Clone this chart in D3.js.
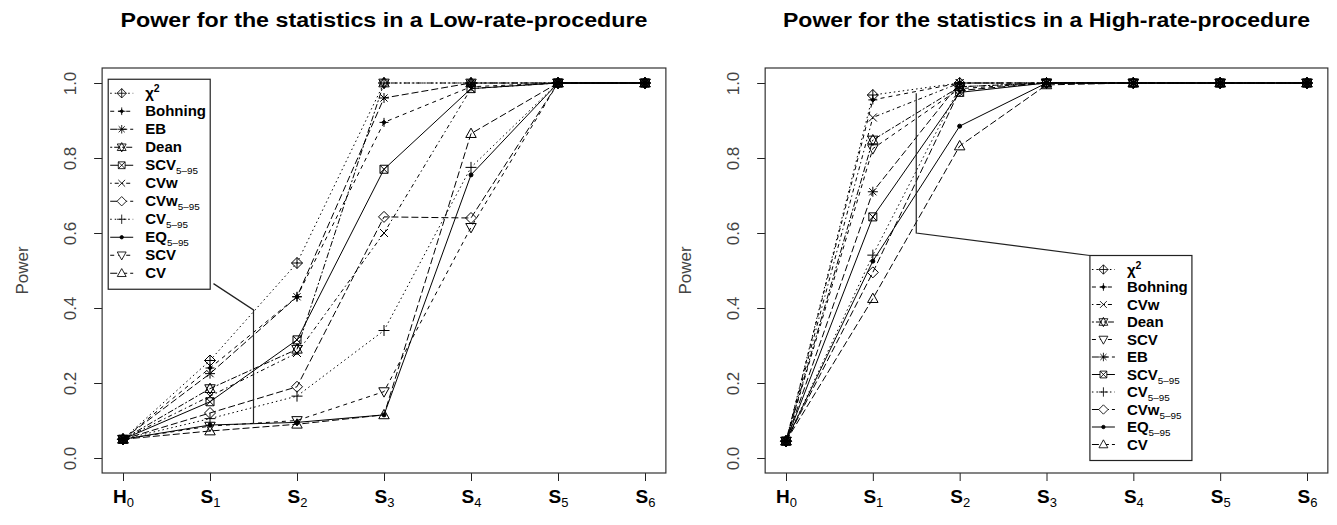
<!DOCTYPE html>
<html>
<head>
<meta charset="utf-8">
<script src="https://cdn.jsdelivr.net/npm/d3@7"></script>
<style>
  body { margin: 0; background: #fff; }
  svg { display: block; font-family: Arial, "Liberation Sans", sans-serif; }
</style>
</head>
<body>
<div id="chart"></div>
<script>
// stages on the x axis
const stages = ["H0", "S1", "S2", "S3", "S4", "S5", "S6"];
const stageLetter = ["H", "S", "S", "S", "S", "S", "S"];
const stageIndex = ["0", "1", "2", "3", "4", "5", "6"];
const yTicks = [0, 0.2, 0.4, 0.6, 0.8, 1.0];

// power, Low-rate-procedure
const lowChi2    = [0.05, 0.26,  0.52,  1.00,  1.00,  1.00, 1.00];
const lowBohning = [0.05, 0.24,  0.43,  0.895, 0.99,  1.00, 1.00];
const lowEB      = [0.05, 0.225, 0.43,  0.96,  1.00,  1.00, 1.00];
const lowDean    = [0.05, 0.185, 0.29,  1.00,  1.00,  1.00, 1.00];
const lowSCV595  = [0.05, 0.15,  0.315, 0.77,  0.985, 1.00, 1.00];
const lowCVw     = [0.05, 0.165, 0.28,  0.60,  0.985, 1.00, 1.00];
const lowCVw595  = [0.05, 0.12,  0.19,  0.643, 0.64,  1.00, 1.00];
const lowCV595   = [0.05, 0.105, 0.165, 0.34,  0.775, 1.00, 1.00];
const lowEQ595   = [0.05, 0.088, 0.095, 0.115, 0.755, 1.00, 1.00];
const lowSCV     = [0.05, 0.085, 0.10,  0.177, 0.615, 1.00, 1.00];
const lowCV      = [0.05, 0.072, 0.09,  0.115, 0.865, 1.00, 1.00];

// power, High-rate-procedure
const highChi2    = [0.045, 0.968, 1.00,  1.00,  1.00, 1.00, 1.00];
const highBohning = [0.045, 0.955, 1.00,  1.00,  1.00, 1.00, 1.00];
const highCVw     = [0.045, 0.908, 1.00,  1.00,  1.00, 1.00, 1.00];
const highDean    = [0.045, 0.848, 0.99,  1.00,  1.00, 1.00, 1.00];
const highSCV     = [0.045, 0.825, 0.985, 1.00,  1.00, 1.00, 1.00];
const highEB      = [0.045, 0.71,  1.00,  1.00,  1.00, 1.00, 1.00];
const highSCV595  = [0.045, 0.643, 0.975, 1.00,  1.00, 1.00, 1.00];
const highCV595   = [0.045, 0.541, 0.99,  1.00,  1.00, 1.00, 1.00];
const highCVw595  = [0.045, 0.495, 0.98,  1.00,  1.00, 1.00, 1.00];
const highEQ595   = [0.045, 0.525, 0.885, 1.00,  1.00, 1.00, 1.00];
const highCV      = [0.045, 0.425, 0.832, 0.995, 1.00, 1.00, 1.00];

// legend order = drawing order
const lowKeys  = ["chi2", "Bohning", "EB", "Dean", "SCV595", "CVw", "CVw595", "CV595", "EQ595", "SCV", "CV"];
const lowVals  = [lowChi2, lowBohning, lowEB, lowDean, lowSCV595, lowCVw, lowCVw595, lowCV595, lowEQ595, lowSCV, lowCV];
const highKeys = ["chi2", "Bohning", "CVw", "Dean", "SCV", "EB", "SCV595", "CV595", "CVw595", "EQ595", "CV"];
const highVals = [highChi2, highBohning, highCVw, highDean, highSCV, highEB, highSCV595, highCV595, highCVw595, highEQ595, highCV];

// pointer lines (data coords)
const lowPointer  = [[1.04, 0.465], [1.5, 0.395], [1.5, 0.091]];
const highPointer = [[1.5, 0.973], [1.5, 0.60], [3.5, 0.54]];

const labels = {
  chi2:    {main: "\u03c7", sup: "2"},
  Bohning: {main: "Bohning"},
  EB:      {main: "EB"},
  Dean:    {main: "Dean"},
  SCV595:  {main: "SCV", sub: "5\u201395"},
  CVw:     {main: "CVw"},
  CVw595:  {main: "CVw", sub: "5\u201395"},
  CV595:   {main: "CV", sub: "5\u201395"},
  EQ595:   {main: "EQ", sub: "5\u201395"},
  SCV:     {main: "SCV"},
  CV:      {main: "CV"}
};

const styles = {
  chi2:    {dash: "1.5,3",     sym: "diamondPlus"},
  Bohning: {dash: "4,4",       sym: "plusDot"},
  EB:      {dash: "7,3",       sym: "asterisk"},
  Dean:    {dash: "2,2,6,2",   sym: "david"},
  SCV595:  {dash: null,        sym: "squareX"},
  CVw:     {dash: "1.5,3,4,3", sym: "x"},
  CVw595:  {dash: "7,3",       sym: "diamond"},
  CV595:   {dash: "1.5,3",     sym: "plus"},
  EQ595:   {dash: null,        sym: "dot"},
  SCV:     {dash: "4,4",       sym: "triDown"},
  CV:      {dash: "7,3",       sym: "triUp"}
};

function symbolPath(type) {
  const dia = r => `M0,${-r}L${r},0L0,${r}L${-r},0Z`;
  const plus = r => `M${-r},0H${r}M0,${-r}V${r}`;
  const ex = r => `M${-r},${-r}L${r},${r}M${-r},${r}L${r},${-r}`;
  const up = r => `M0,${-r}L${r * 0.95},${r * 0.7}L${-r * 0.95},${r * 0.7}Z`;
  const down = r => `M0,${r}L${r * 0.95},${-r * 0.7}L${-r * 0.95},${-r * 0.7}Z`;
  const circ = r => `M${r},0A${r},${r},0,1,1,${-r},0A${r},${r},0,1,1,${r},0Z`;
  switch (type) {
    case "diamondPlus": return dia(5.5) + plus(5.5);
    case "plusDot":     return plus(4.5) + dia(2.2);
    case "asterisk":    return plus(5) + ex(3.6);
    case "david":       return up(5.5) + down(5.5);
    case "squareX":     return `M-4,-4H4V4H-4Z` + ex(4);
    case "x":           return ex(4);
    case "diamond":     return dia(5.5);
    case "plus":        return plus(5.5);
    case "dot":         return circ(2);
    case "triDown":     return down(5.5);
    case "triUp":       return up(5.5);
  }
}
const filled = {plusDot: true, dot: true};

const W = 1337, H = 525;
const svg = d3.select("#chart").append("svg")
  .attr("width", W)
  .attr("height", H);

function drawLabel(sel, lab, size) {
  sel.append("tspan").text(lab.main);
  if (lab.sup) sel.append("tspan").attr("dy", -6).attr("font-size", size * 0.7).text(lab.sup);
  if (lab.sub) sel.append("tspan").attr("dy", 4).attr("font-size", size * 0.66)
    .attr("font-weight", "normal").text(lab.sub);
}

function panel(cfg) {
  const x = d3.scalePoint().domain(stages).range(cfg.xr);
  const y = d3.scaleLinear().domain([0, 1]).range([458, 83]);
  const xpos = v => cfg.xr[0] + v * (cfg.xr[1] - cfg.xr[0]) / (stages.length - 1);
  const span = cfg.xr[1] - cfg.xr[0];
  const bx0 = cfg.xr[0] - 0.04 * span, bx1 = cfg.xr[1] + 0.04 * span;
  const by0 = y(1.04), by1 = y(-0.04);

  const g = svg.append("g");

  // title
  g.append("text")
    .attr("x", (bx0 + bx1) / 2).attr("y", 27)
    .attr("text-anchor", "middle")
    .attr("font-size", 20).attr("font-weight", "bold")
    .attr("textLength", 527).attr("lengthAdjust", "spacingAndGlyphs")
    .text(cfg.title);

  // y axis
  const ya = g.append("g")
    .attr("transform", `translate(${bx0},0)`)
    .call(d3.axisLeft(y).tickValues(yTicks).tickFormat(d3.format(".1f")).tickSize(8).tickPadding(0));
  ya.select(".domain").remove();
  ya.selectAll(".tick line").attr("stroke", "#222");
  ya.selectAll(".tick text")
    .attr("x", 0).attr("dy", 0)
    .attr("transform", "translate(-31,0) rotate(-90)")
    .attr("text-anchor", "middle")
    .attr("dominant-baseline", "middle")
    .attr("font-size", 17).attr("fill", "#444")
    .attr("font-family", "Arial, 'Liberation Sans', sans-serif");

  g.append("text")
    .attr("transform", `translate(${bx0 - 79},${(by0 + by1) / 2}) rotate(-90)`)
    .attr("text-anchor", "middle")
    .attr("dominant-baseline", "middle")
    .attr("font-size", 17).attr("fill", "#444")
    .text("Power");

  // x axis
  const xa = g.append("g")
    .attr("transform", `translate(0,${by1})`)
    .call(d3.axisBottom(x).tickSize(8).tickFormat(""));
  xa.select(".domain").remove();
  xa.selectAll(".tick line").attr("stroke", "#222");
  xa.selectAll(".tick").each(function (d, i) {
    const t = d3.select(this).append("text")
      .attr("y", 30).attr("text-anchor", "middle")
      .attr("fill", "#000")
      .attr("font-family", "Arial, 'Liberation Sans', sans-serif");
    t.append("tspan").attr("font-size", 19).attr("font-weight", "bold").text(stageLetter[i]);
    t.append("tspan").attr("font-size", 13).attr("dy", 4).text(stageIndex[i]);
  });

  // box
  g.append("rect")
    .attr("x", bx0).attr("y", by0)
    .attr("width", bx1 - bx0).attr("height", by1 - by0)
    .attr("fill", "none").attr("stroke", "#333").attr("stroke-width", 1.2);

  // series
  const line = d3.line().x((d, i) => x(stages[i])).y(d => y(d));
  cfg.keys.forEach((k, si) => {
    const vals = cfg.vals[si];
    const st = styles[k];
    g.append("path")
      .attr("d", line(vals))
      .attr("fill", "none").attr("stroke", "#000").attr("stroke-width", 1)
      .attr("stroke-dasharray", st.dash);
    g.selectAll(null).data(vals).enter().append("path")
      .attr("transform", (d, i) => `translate(${x(stages[i])},${y(d)})`)
      .attr("d", symbolPath(st.sym))
      .attr("fill", filled[st.sym] ? "#000" : "none")
      .attr("stroke", "#000").attr("stroke-width", 1);
  });

  // pointer line
  g.append("path")
    .attr("d", d3.line().x(d => xpos(d[0])).y(d => y(d[1]))(cfg.pointer))
    .attr("fill", "none").attr("stroke", "#222").attr("stroke-width", 1.2);

  // legend
  const lx = xpos(cfg.legend[0]), ly = y(cfg.legend[1]);
  const rowH = cfg.rowH, lw = 102, lh = rowH * (cfg.keys.length - 1) + 30;
  const lg = g.append("g").attr("transform", `translate(${lx},${ly})`);
  lg.append("rect").attr("width", lw).attr("height", lh)
    .attr("fill", "#fff").attr("stroke", "#222").attr("stroke-width", 1.2);
  cfg.keys.forEach((k, i) => {
    const st = styles[k];
    const ry = 14 + i * rowH;
    lg.append("line")
      .attr("x1", 2).attr("x2", 25).attr("y1", ry).attr("y2", ry)
      .attr("stroke", "#000").attr("stroke-dasharray", st.dash);
    lg.append("path")
      .attr("transform", `translate(13.5,${ry}) scale(0.85)`)
      .attr("d", symbolPath(st.sym))
      .attr("fill", filled[st.sym] ? "#000" : "#fff")
      .attr("stroke", "#000");
    const t = lg.append("text")
      .attr("x", 37).attr("y", ry + 5)
      .attr("font-size", 15).attr("font-weight", "bold");
    drawLabel(t, labels[k], 15);
  });
}

panel({
  title: "Power for the statistics in a Low-rate-procedure",
  xr: [123, 645],
  keys: lowKeys, vals: lowVals,
  pointer: lowPointer,
  legend: [-0.17, 1.01],
  rowH: 18
});
panel({
  title: "Power for the statistics in a High-rate-procedure",
  xr: [786, 1307],
  keys: highKeys, vals: highVals,
  pointer: highPointer,
  legend: [3.5, 0.54],
  rowH: 17.5
});
</script>
</body>
</html>
